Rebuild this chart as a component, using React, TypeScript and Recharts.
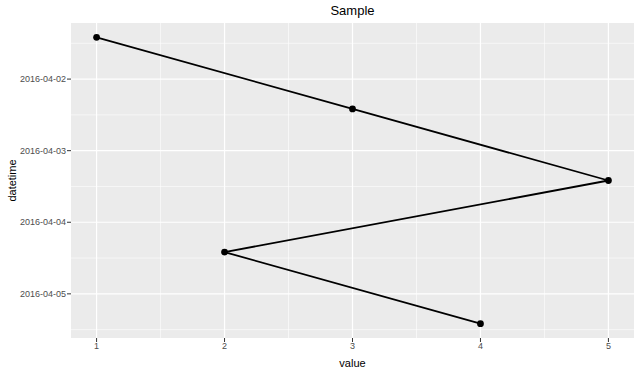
import React from 'react';
import { CartesianGrid, Scatter, ScatterChart, XAxis, YAxis } from 'recharts';

// observations, in the order the path visits them
const values = [1, 3, 5, 2, 4];
const datetimes = [
  '2016-04-01T10:00:00Z',
  '2016-04-02T10:00:00Z',
  '2016-04-03T10:00:00Z',
  '2016-04-04T10:00:00Z',
  '2016-04-05T10:00:00Z',
];

// axis breaks
const xTicks = [1, 2, 3, 4, 5];
const xMinor = [1.5, 2.5, 3.5, 4.5];
const yTickLabels = ['2016-04-02', '2016-04-03', '2016-04-04', '2016-04-05'];
const yMinorLabels = [
  '2016-04-01T12:00:00Z',
  '2016-04-02T12:00:00Z',
  '2016-04-03T12:00:00Z',
  '2016-04-04T12:00:00Z',
  '2016-04-05T12:00:00Z',
];

const FONT = '"Liberation Sans", Arial, sans-serif';
const DAY = 24 * 3600 * 1000;

const data = values.map((v, i) => ({ value: v, time: Date.parse(datetimes[i]) }));
const yTicks = yTickLabels.map((d) => Date.parse(d + 'T00:00:00Z'));
const yMinor = yMinorLabels.map((d) => Date.parse(d));

// ggplot style 5% expansion on each side
const times = data.map((d) => d.time);
const tPad = (Math.max(...times) - Math.min(...times)) * 0.05;
const xPad = (Math.max(...values) - Math.min(...values)) * 0.05;

const fmtDate = (t: number) => new Date(t).toISOString().slice(0, 10);

const Dot = (props: any) => <circle cx={props.cx} cy={props.cy} r={3.4} fill="#000" />;

export default function App() {
  return (
    <div style={{ position: 'absolute', left: 0, top: 0, width: 640, height: 372, background: '#fff', fontFamily: FONT }}>
      <div
        style={{
          position: 'absolute',
          left: 71,
          width: 563,
          top: 3,
          textAlign: 'center',
          fontSize: 13,
          color: '#000',
        }}
      >
        Sample
      </div>
      <ScatterChart width={640} height={372} margin={{ top: 23, right: 6, left: 0, bottom: 0 }}>
        <CartesianGrid
          fill="#EBEBEB"
          stroke="#fff"
          strokeWidth={0.6}
          horizontalValues={yMinor}
          verticalValues={xMinor}
        />
        <CartesianGrid stroke="#fff" strokeWidth={1.2} horizontalValues={yTicks} verticalValues={xTicks} />
        <XAxis
          type="number"
          dataKey="value"
          domain={[Math.min(...values) - xPad, Math.max(...values) + xPad]}
          ticks={xTicks}
          axisLine={false}
          tickLine={{ stroke: '#333' }}
          tickSize={4}
          tickMargin={1}
          tick={{ fontSize: 9, fill: '#4D4D4D', fontFamily: FONT }}
          height={34}
          label={{ value: 'value', position: 'insideBottom', offset: 5, fontSize: 11, fill: '#000', fontFamily: FONT }}
        />
        <YAxis
          type="number"
          dataKey="time"
          reversed
          domain={[Math.min(...times) - tPad, Math.max(...times) + tPad]}
          ticks={yTicks}
          tickFormatter={fmtDate}
          axisLine={false}
          tickLine={{ stroke: '#333' }}
          tickSize={4}
          tickMargin={1}
          tick={{ fontSize: 9, fill: '#4D4D4D', fontFamily: FONT }}
          width={71}
          label={{
            content: ({ viewBox }: any) => {
              const x = viewBox.x + 12;
              const y = viewBox.y + viewBox.height / 2;
              return (
                <text
                  x={x}
                  y={y}
                  transform={`rotate(-90, ${x}, ${y})`}
                  textAnchor="middle"
                  dominantBaseline="central"
                  fontSize={11}
                  fill="#000"
                  fontFamily={FONT}
                >
                  datetime
                </text>
              );
            },
          }}
        />
        <Scatter
          data={data}
          line={{ stroke: '#000', strokeWidth: 1.8 }}
          shape={Dot}
          isAnimationActive={false}
        />
      </ScatterChart>
    </div>
  );
}
